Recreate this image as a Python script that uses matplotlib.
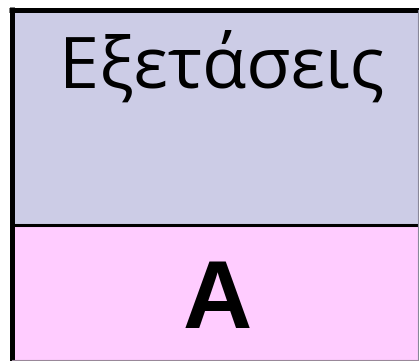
import matplotlib.pyplot as plt
from matplotlib.patches import Rectangle

# cell contents (top to bottom)
labels = ['Εξετάσεις', 'A']
colors = ['#ccccE6', '#ffccff']

W, H = 419, 361
fig = plt.figure(figsize=(W / 100, H / 100), dpi=100)
ax = fig.add_axes([0, 0, 1, 1])
ax.set_xlim(0, W)
ax.set_ylim(H, 0)
ax.axis('off')

left, right = 11.5, 418
top, mid, bottom = 9.5, 225, 359.5
edges = [top, mid, bottom]

for i, lab in enumerate(labels):
    y0, y1 = edges[i], edges[i + 1]
    ax.add_patch(Rectangle((left, y0), right - left, y1 - y0, fc=colors[i], ec='none'))

# text
ax.text(222, 88, labels[0], fontsize=52, family='Open Sans',
        ha='center', va='baseline')
ax.text(217, 328, labels[1], fontsize=69, family='Liberation Sans',
        fontweight='bold', ha='center', va='baseline')

# borders
ax.plot([left, left], [7, H], color='black', lw=3.6, solid_capstyle='butt')
ax.plot([9, W], [top, top], color='black', lw=3.6, solid_capstyle='butt')
ax.plot([left, W], [mid, mid], color='black', lw=2.2, solid_capstyle='butt')
ax.plot([right, right], [top, bottom], color='#888899', lw=0.8)
ax.plot([left, right], [bottom, bottom], color='#998899', lw=0.8)

fig.savefig('out.png', dpi=100)
